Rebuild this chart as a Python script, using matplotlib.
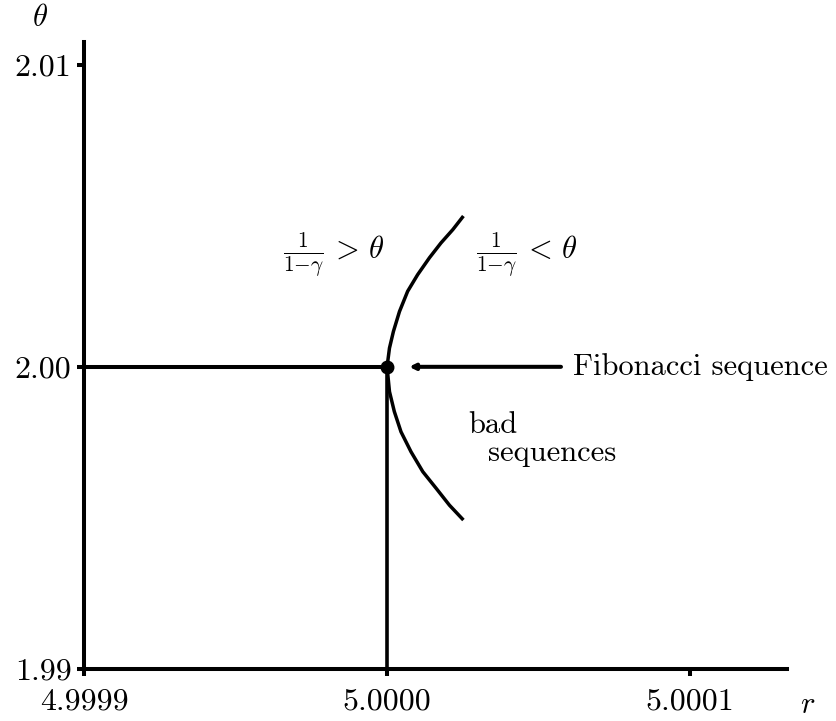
import matplotlib
matplotlib.use("Agg")
import matplotlib.pyplot as plt

plt.rcParams['mathtext.fontset'] = 'cm'
plt.rcParams['font.family'] = ['cmr10', 'DejaVu Serif']
plt.rcParams['axes.unicode_minus'] = False

# Curve of r vs theta
curve_r = [5.0000252, 5.0000217, 5.0000178, 5.0000140, 5.0000101, 5.0000068,
           5.0000041, 5.0000021, 5.0000008, 5.0,
           5.0000008, 5.0000024, 5.0000046, 5.0000079, 5.0000118, 5.0000162,
           5.0000206, 5.0000252]
curve_theta = [2.00499, 2.00454, 2.00410, 2.00361, 2.00305, 2.00250,
               2.00183, 2.00117, 2.00062, 2.0,
               1.99918, 1.99852, 1.99785, 1.99719, 1.99653, 1.99598,
               1.99542, 1.99493]

fib_r = 5.0
fib_theta = 2.0

x_ticks = [4.9999, 5.0000, 5.0001]
x_tick_labels = ["4.9999", "5.0000", "5.0001"]
y_ticks = [1.99, 2.00, 2.01]
y_tick_labels = ["1.99", "2.00", "2.01"]

x_min, x_max = 4.9999, 5.000132
y_min, y_max = 1.99, 2.01075

LW = 2.9

fig = plt.figure(figsize=(8.37, 7.21), dpi=100)
ax = fig.add_axes([0.1004, 0.0721, 0.8399, 0.8697])
ax.set_xlim(x_min, x_max)
ax.set_ylim(y_min, y_max)

for s in ['top', 'right']:
    ax.spines[s].set_visible(False)
for s in ['left', 'bottom']:
    ax.spines[s].set_linewidth(LW)
ax.tick_params(direction='out', length=5, width=LW, labelsize=23)
ax.tick_params(axis='x', pad=9)
ax.tick_params(axis='y', pad=4)
ax.set_xticks(x_ticks)
ax.set_xticklabels(x_tick_labels)
ax.set_yticks(y_ticks)
ax.set_yticklabels(y_tick_labels)

# reference lines
ax.plot([x_min, fib_r], [fib_theta, fib_theta], color='black', lw=LW, solid_capstyle='butt')
ax.plot([fib_r, fib_r], [y_min, fib_theta], color='black', lw=2.6, solid_capstyle='butt')

# curve
ax.plot(curve_r, curve_theta, color='black', lw=2.5, solid_joinstyle='round',
        solid_capstyle='butt')

# point
ax.plot([fib_r], [fib_theta], 'o', color='black', markersize=9)

# arrow
ax.annotate('', xy=(5.0000073, fib_theta), xytext=(5.0000574, fib_theta),
            arrowprops=dict(arrowstyle='-|>', lw=LW, color='black', mutation_scale=8,
                            shrinkA=0, shrinkB=0))

ax.text(5.0000614, fib_theta, 'Fibonacci sequence', fontsize=22, va='center', ha='left')
ax.text(4.9999825, 2.00372, r'$\frac{1}{1{-}\gamma}\,>\,\theta$', fontsize=22, va='center', ha='center')
ax.text(5.0000462, 2.00372, r'$\frac{1}{1{-}\gamma}\,<\,\theta$', fontsize=22, va='center', ha='center')
ax.text(5.0000267, 1.99805, 'bad', fontsize=22, va='center', ha='left')
ax.text(5.0000333, 1.99713, 'sequences', fontsize=22, va='center', ha='left')

fig.text(0.048, 0.975, r'$\theta$', fontsize=22, ha='center', va='center')
fig.text(0.965, 0.022, r'$r$', fontsize=22, ha='center', va='center')

fig.savefig('out.png', dpi=100)
